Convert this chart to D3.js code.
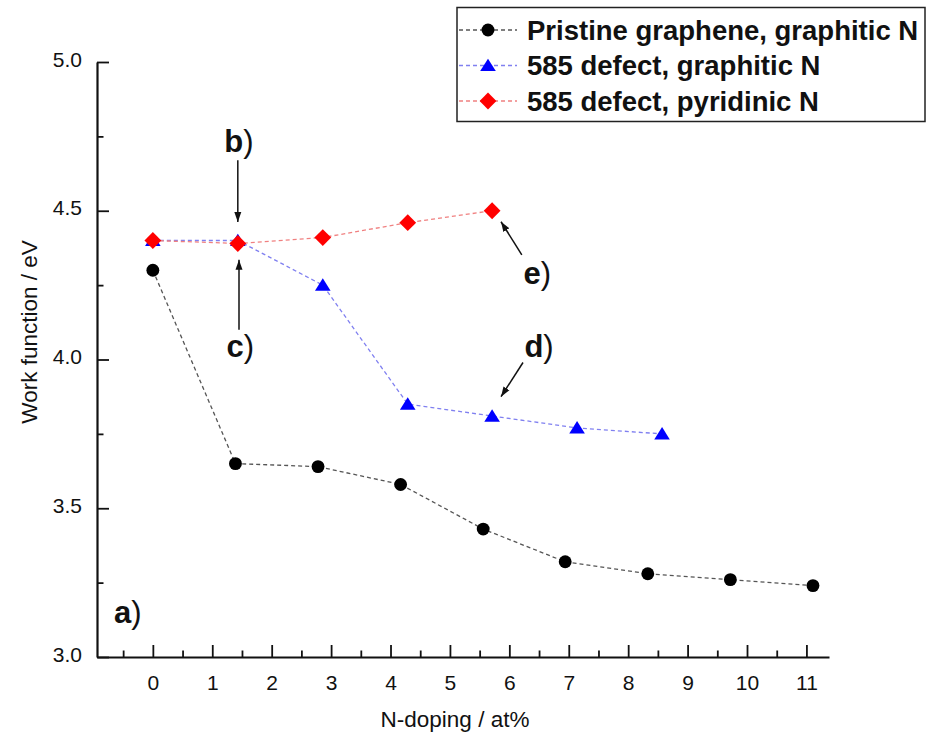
<!DOCTYPE html>
<html>
<head>
<meta charset="utf-8">
<script src="https://cdn.jsdelivr.net/npm/d3@7"></script>
<style>
  html, body { margin: 0; padding: 0; background: #fff; }
  svg { display: block; font-family: Arial, "Liberation Sans", Helvetica, sans-serif; }
</style>
</head>
<body>
<svg id="chart" width="928" height="744"></svg>
<script>
// ---- data ----
const pristineX = [0, 1.39, 2.78, 4.17, 5.56, 6.94, 8.33, 9.72, 11.11];
const pristineY = [4.30, 3.65, 3.64, 3.58, 3.43, 3.32, 3.28, 3.26, 3.24];
const graphiticX = [0, 1.43, 2.86, 4.29, 5.71, 7.14, 8.57];
const graphiticY = [4.40, 4.40, 4.25, 3.85, 3.81, 3.77, 3.75];
const pyridinicX = [0, 1.43, 2.86, 4.29, 5.71];
const pyridinicY = [4.40, 4.39, 4.41, 4.46, 4.50];
const seriesNames = ["Pristine graphene, graphitic N", "585 defect, graphitic N", "585 defect, pyridinic N"];
const xTicks = [0, 1, 2, 3, 4, 5, 6, 7, 8, 9, 10, 11];
const xMinorTicks = [-0.5, 0.5, 1.5, 2.5, 3.5, 4.5, 5.5, 6.5, 7.5, 8.5, 9.5, 10.5];
const yTicks = [3.0, 3.5, 4.0, 4.5, 5.0];
const yMinorTicks = [3.25, 3.75, 4.25, 4.75];
const xTitle = "N-doping / at%";
const yTitle = "Work function / eV";
// annotations: label position and arrow (from -> to) in data coords
const annLabels = ["a", "b", "c", "d", "e"];
const annLabelPos = [[-0.42, 3.15], [1.45, 4.735], [1.47, 4.045], [6.5, 4.045], [6.47, 4.29]];
const annArrows = [null, [[1.43, 4.67], [1.43, 4.462]], [[1.45, 4.10], [1.45, 4.335]], [[6.23, 3.99], [5.86, 3.875]], [[6.21, 4.352], [5.86, 4.463]]];

// ---- setup ----
const svg = d3.select("#chart");
const x = d3.scaleLinear().domain([-0.94, 11.38]).range([97, 829]);
const y = d3.scaleLinear().domain([3, 5]).range([657, 62]);

const series = [
  { name: seriesNames[0], xs: pristineX, ys: pristineY, color: "#000000", line: "#555555", symbol: "circle" },
  { name: seriesNames[1], xs: graphiticX, ys: graphiticY, color: "#0000ff", line: "#8080f0", symbol: "triangle" },
  { name: seriesNames[2], xs: pyridinicX, ys: pyridinicY, color: "#ff0000", line: "#f08080", symbol: "diamond" }
];

function symbolPath(kind) {
  if (kind === "circle") return d3.symbol(d3.symbolCircle, 130)();
  if (kind === "triangle") return "M0,-6.8L7.8,5.6L-7.8,5.6Z";
  return "M0,-8.4L8.4,0L0,8.4L-8.4,0Z";
}

// ---- axes ----
const axisG = svg.append("g");
const xAxis = d3.axisBottom(x).tickValues(xTicks).tickSizeInner(-12).tickSizeOuter(0).tickFormat(d3.format("d")).tickPadding(18);
const gx = axisG.append("g").attr("transform", `translate(0,${y(3)})`).call(xAxis);
gx.select(".domain").attr("stroke", "#111").attr("stroke-width", 2.2);
gx.selectAll(".tick line").attr("stroke", "#111").attr("stroke-width", 1.8);
gx.selectAll(".tick text").attr("font-size", 21).attr("fill", "#111").attr("font-family", "Arial, 'Liberation Sans', sans-serif");
const gxm = axisG.append("g").attr("transform", `translate(0,${y(3)})`)
  .call(d3.axisBottom(x).tickValues(xMinorTicks).tickSizeInner(-6.5).tickSizeOuter(0).tickFormat(""));
gxm.select(".domain").remove();
gxm.selectAll(".tick line").attr("stroke", "#111").attr("stroke-width", 1.8);

const yAxis = d3.axisLeft(y).tickValues(yTicks).tickSizeInner(-12).tickSizeOuter(0).tickFormat(d3.format(".1f")).tickPadding(15);
const gy = axisG.append("g").attr("transform", `translate(${x(-0.94)},0)`).call(yAxis);
gy.select(".domain").attr("stroke", "#111").attr("stroke-width", 2.2);
gy.selectAll(".tick line").attr("stroke", "#111").attr("stroke-width", 1.8);
gy.selectAll(".tick text").attr("font-size", 21).attr("fill", "#111").attr("dy", "0.2em").attr("font-family", "Arial, 'Liberation Sans', sans-serif");
const gym = axisG.append("g").attr("transform", `translate(${x(-0.94)},0)`)
  .call(d3.axisLeft(y).tickValues(yMinorTicks).tickSizeInner(-6.5).tickSizeOuter(0).tickFormat(""));
gym.select(".domain").remove();
gym.selectAll(".tick line").attr("stroke", "#111").attr("stroke-width", 1.8);

// titles
svg.append("text").attr("x", 455).attr("y", 727).attr("text-anchor", "middle")
  .attr("font-size", 22.5).attr("fill", "#111").text(xTitle);
svg.append("text").attr("transform", `translate(37,332) rotate(-90)`).attr("text-anchor", "middle")
  .attr("font-size", 22.5).attr("fill", "#111").text(yTitle);

// ---- series ----
const line = d3.line().x(d => x(d[0])).y(d => y(d[1]));
series.forEach(s => {
  const pts = s.xs.map((v, i) => [v, s.ys[i]]);
  svg.append("path").attr("d", line(pts)).attr("fill", "none")
    .attr("stroke", s.line).attr("stroke-width", 1.3).attr("stroke-dasharray", "4,3");
});
series.forEach(s => {
  const pts = s.xs.map((v, i) => [v, s.ys[i]]);
  svg.append("g").selectAll("path").data(pts).join("path")
    .attr("transform", d => `translate(${x(d[0])},${y(d[1])})`)
    .attr("d", symbolPath(s.symbol)).attr("fill", s.color);
});

// ---- annotations ----
svg.append("defs").append("marker").attr("id", "arr").attr("viewBox", "0 0 10 10")
  .attr("refX", 10).attr("refY", 5).attr("markerWidth", 10).attr("markerHeight", 10)
  .attr("markerUnits", "userSpaceOnUse").attr("orient", "auto")
  .append("path").attr("d", "M0,1.5L10,5L0,8.5Z").attr("fill", "#111");

annLabels.forEach((lab, i) => {
  const p = annLabelPos[i];
  const t = svg.append("text").attr("x", x(p[0])).attr("y", y(p[1])).attr("text-anchor", "middle")
    .attr("dominant-baseline", "central").attr("font-size", 31).attr("fill", "#111");
  t.append("tspan").attr("font-weight", "bold").text(lab);
  t.append("tspan").attr("font-weight", "normal").text(")");
  const a = annArrows[i];
  if (a) {
    svg.append("line").attr("x1", x(a[0][0])).attr("y1", y(a[0][1]))
      .attr("x2", x(a[1][0])).attr("y2", y(a[1][1]))
      .attr("stroke", "#111").attr("stroke-width", 1.5).attr("marker-end", "url(#arr)");
  }
});

// ---- legend ----
const lg = svg.append("g");
lg.append("rect").attr("x", 457).attr("y", 7.5).attr("width", 468).attr("height", 114)
  .attr("fill", "#fff").attr("stroke", "#222").attr("stroke-width", 1.5);
series.forEach((s, i) => {
  const cy = 30 + i * 35.5;
  lg.append("line").attr("x1", 459).attr("x2", 517).attr("y1", cy).attr("y2", cy)
    .attr("stroke", s.line).attr("stroke-width", 1.3).attr("stroke-dasharray", "4,3");
  lg.append("path").attr("transform", `translate(488,${cy})`).attr("d", symbolPath(s.symbol)).attr("fill", s.color);
  lg.append("text").attr("x", 527).attr("y", cy).attr("dominant-baseline", "central")
    .attr("font-size", 27.5).attr("font-weight", "bold").attr("fill", "#111").text(s.name);
});
</script>
</body>
</html>
